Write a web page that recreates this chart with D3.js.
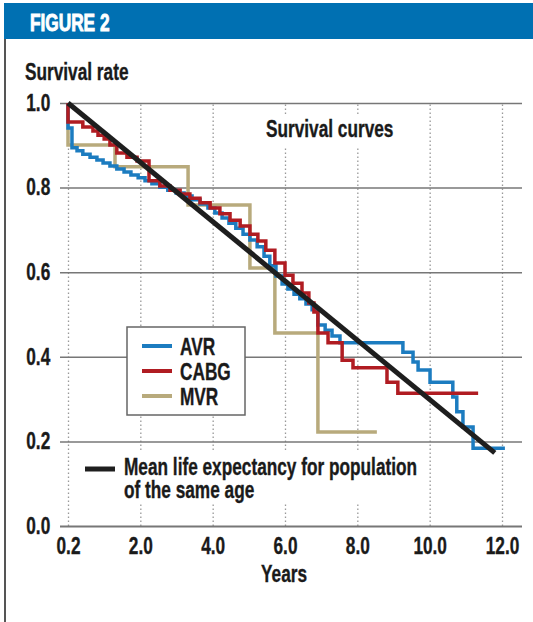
<!DOCTYPE html>
<html>
<head>
<meta charset="utf-8">
<script src="https://cdn.jsdelivr.net/npm/d3@7"></script>
<style>
body{margin:0;background:#fff;}
text{font-family:"Liberation Sans",Arial,sans-serif;font-weight:bold;fill:#1a1a1a;stroke:#1a1a1a;stroke-width:0.35px;}
</style>
</head>
<body>
<div id="chart"></div>
<script>
// axis ticks (x: first tick is labelled 0.2 in the original)
var xTicks = [0, 2, 4, 6, 8, 10, 12];
var xTickLabels = ["0.2", "2.0", "4.0", "6.0", "8.0", "10.0", "12.0"];
var yTicks = [0, 0.2, 0.4, 0.6, 0.8, 1.0];
var yTickLabels = ["0.0", "0.2", "0.4", "0.6", "0.8", "1.0"];

var seriesNames = ["AVR", "CABG", "MVR"];
var seriesColors = ["#1c7cc0", "#b01c22", "#b8aa7c"];

// survival curves: [years, rate], each point starts a new step
var avr = [[0,1.0],[0,0.941],[0.11,0.894],[0.25,0.887],[0.41,0.879],[0.61,0.872],[0.80,0.865],
  [0.97,0.858],[1.16,0.851],[1.35,0.844],[1.55,0.837],[1.74,0.830],[1.94,0.823],[2.13,0.816],
  [2.32,0.809],[2.54,0.801],[2.76,0.794],[2.99,0.787],[3.21,0.780],[3.43,0.771],[3.65,0.761],
  [3.87,0.752],[4.06,0.740],[4.26,0.728],[4.45,0.716],[4.64,0.704],[4.84,0.690],[5.03,0.676],
  [5.23,0.660],[5.42,0.638],[5.58,0.615],[5.75,0.591],[5.92,0.572],[6.08,0.560],[6.25,0.548],
  [6.41,0.537],[6.58,0.525],[6.75,0.511],[6.91,0.475],[7.11,0.463],[7.30,0.449],[7.52,0.433],
  [9.26,0.411],[9.54,0.388],[9.68,0.369],[10.01,0.340],[10.64,0.305],[10.75,0.270],[10.92,0.234],
  [11.20,0.184],[12.08,0.184]];

var cabg = [[0,1.0],[0,0.955],[0.41,0.943],[0.69,0.934],[0.83,0.924],[1.00,0.915],[1.16,0.901],
  [1.35,0.882],[1.63,0.872],[1.91,0.863],[2.24,0.816],[2.54,0.804],[2.82,0.794],[3.10,0.785],
  [3.37,0.775],[3.65,0.764],[3.93,0.752],[4.20,0.738],[4.48,0.723],[4.76,0.709],[5.03,0.690],
  [5.25,0.674],[5.47,0.652],[5.72,0.622],[6.00,0.593],[6.22,0.574],[6.47,0.551],[6.66,0.527],
  [6.80,0.506],[6.91,0.456],[7.19,0.433],[7.58,0.392],[7.88,0.374],[8.82,0.340],[9.12,0.314],
  [11.34,0.314]];

var mvr = [[0,1.0],[0,0.901],[1.30,0.849],[3.32,0.759],[5.03,0.610],[5.72,0.456],[6.91,0.222],
  [8.54,0.222]];

// mean life expectancy for population of the same age
var lifeExpectancy = [[0,1.0],[11.8,0.173]];

var W = 533, H = 622;
var NARROW = "scale(0.75,1)"; // condensed look with a normal font
var svg = d3.select("#chart").append("svg").attr("width", W).attr("height", H);

var x = d3.scaleLinear().domain([0, 12]).range([68, 502]);
var y = d3.scaleLinear().domain([0, 1]).range([526, 103]);

function label(tx, ty, txt, size, anchor){
  return svg.append("text")
    .attr("transform", "translate(" + tx + "," + ty + ") " + NARROW)
    .attr("text-anchor", anchor || "start")
    .style("font-size", size + "px")
    .text(txt);
}

// header bar
svg.append("rect").attr("x", 4).attr("y", 3).attr("width", W - 4).attr("height", 36).attr("fill", "#0070b2");
label(30, 31, "FIGURE 2", 23).style("fill", "#fff").style("stroke", "#fff").style("stroke-width", "0.9px");
svg.append("line").attr("x1", 5).attr("x2", 5).attr("y1", 39).attr("y2", H)
  .attr("stroke", "#555").attr("stroke-width", 2);

// vertical dotted grid + x labels
var xAxis = svg.append("g").attr("transform", "translate(0,526)")
  .call(d3.axisBottom(x).tickValues(xTicks).tickFormat(function(d, i){ return xTickLabels[i]; })
    .tickSize(-(526 - 103)).tickPadding(12));
xAxis.select(".domain").remove();
xAxis.selectAll(".tick line").attr("stroke", "#999").attr("stroke-width", 1.3).attr("stroke-dasharray", "1.5,2.5");
xAxis.selectAll(".tick text").attr("transform", NARROW).style("font-size", "23px").style("fill", "#1a1a1a");

// white patches behind the texts that cut the grid
svg.append("rect").attr("x", 262).attr("y", 115).attr("width", 140).attr("height", 32).attr("fill", "#fff");
svg.append("rect").attr("x", 120).attr("y", 452).attr("width", 305).attr("height", 51).attr("fill", "#fff");

// horizontal grid + y labels
var yAxis = svg.append("g").attr("transform", "translate(60,0)")
  .call(d3.axisLeft(y).tickValues(yTicks).tickFormat(function(d, i){ return yTickLabels[i]; })
    .tickSize(-(522 - 60)).tickPadding(13));
yAxis.select(".domain").remove();
yAxis.selectAll(".tick line").attr("stroke", "#777").attr("stroke-width", function(d){ return d === 0 ? 2 : 1.5; });
yAxis.selectAll(".tick text").attr("transform", NARROW).style("font-size", "23px").style("fill", "#1a1a1a");

label(25, 80, "Survival rate", 23);
label(266, 137, "Survival curves", 23);
label(284, 582, "Years", 23, "middle");

// curves
var step = d3.line().x(function(d){ return x(d[0]); }).y(function(d){ return y(d[1]); }).curve(d3.curveStepAfter);
var curves = [mvr, avr, cabg];
var curveColors = [seriesColors[2], seriesColors[0], seriesColors[1]];
svg.selectAll("path.curve").data(curves).enter().append("path")
  .attr("class", "curve")
  .attr("d", step)
  .attr("fill", "none")
  .attr("stroke", function(d, i){ return curveColors[i]; })
  .attr("stroke-width", 3.5);

svg.append("path").datum(lifeExpectancy)
  .attr("d", d3.line().x(function(d){ return x(d[0]); }).y(function(d){ return y(d[1]); }))
  .attr("fill", "none").attr("stroke", "#1e1e1e").attr("stroke-width", 5);

// legend box
svg.append("rect").attr("x", 127).attr("y", 327).attr("width", 118).attr("height", 88)
  .attr("fill", "#fff").attr("stroke", "#666").attr("stroke-width", 1.5);
seriesNames.forEach(function(name, i){
  svg.append("line").attr("x1", 142).attr("x2", 172).attr("y1", 346 + i * 25).attr("y2", 346 + i * 25)
    .attr("stroke", seriesColors[i]).attr("stroke-width", 4);
  label(180, 355 + i * 25, name, 23);
});

// black line legend
svg.append("line").attr("x1", 85).attr("x2", 115).attr("y1", 469).attr("y2", 469)
  .attr("stroke", "#1e1e1e").attr("stroke-width", 5);
label(124, 475, "Mean life expectancy for population", 23);
label(124, 498, "of the same age", 23);
</script>
</body>
</html>
